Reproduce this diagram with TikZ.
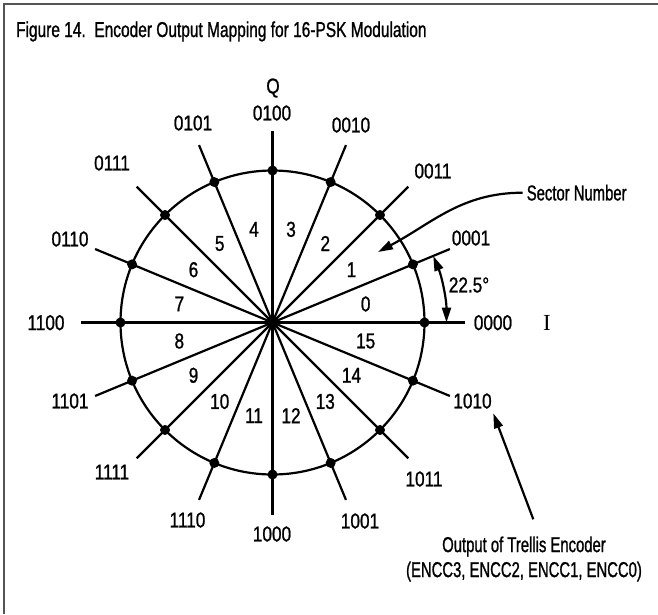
\documentclass[tikz,border=0pt]{standalone}
\usepackage{fontspec}
\setmainfont{Liberation Sans}[FakeStretch=0.8,FakeBold=1]
\newfontfamily\wordfont{Liberation Sans}[FakeStretch=0.69,FakeBold=1]
\newfontfamily\titlefont{Liberation Sans}[FakeStretch=0.72,FakeBold=1]
\newfontfamily\serifI{Liberation Serif}
\usetikzlibrary{arrows.meta}
\definecolor{framegray}{gray}{0.33}
\begin{document}
\begin{tikzpicture}[x=1pt,y=1pt,line width=2.2pt,
  lab/.style={font=\fontsize{21.5}{25}\selectfont,inner sep=0pt},
  wlab/.style={font=\wordfont\fontsize{21.5}{25}\selectfont,inner sep=0pt},
  dot/.style={circle,fill=black,inner sep=0pt,minimum size=10pt},
  tipend/.style={-{Triangle[length=15pt,width=9pt]}},
  tipboth/.style={{Triangle[length=15pt,width=9pt]}-{Triangle[length=15pt,width=9pt]}},
  frame/.style={draw=framegray,line width=2pt}]
\useasboundingbox (0,0) rectangle (658,-614);
\draw[frame] (4,-614) -- (4,-4) -- (658,-4);
\node[font=\titlefont\fontsize{21.5}{25}\selectfont,inner sep=0pt,anchor=base west] (title) at (15,-37) {Figure 14.\ \ Encoder Output Mapping for 16-PSK Modulation};
\coordinate (c) at (272.5,-322.5);
\draw (c) circle[radius=152pt];
\foreach \i in {0,...,15}{
  \coordinate (e\i) at ([shift={(\i*22.5:192pt)}]c);
  \draw (c) -- (e\i);
}
\foreach \i in {0,...,15}{
  \node[dot] (d\i) at ([shift={(\i*22.5:152pt)}]c) {};
  \node[lab] (s\i) at ([shift={({(\i+0.5)*22.5}:95pt)}]c) {\i};
}
\foreach \i/\t/\x/\y in {0/0000/493/322.7, 1/0001/471/238, 2/0011/433/171,
  3/0010/351/125, 4/0100/272/113, 5/0101/193/123, 6/0111/112/163,
  7/0110/70/239, 8/1100/46/322.7, 9/1101/70/401, 10/1111/112/472,
  11/1110/187.5/520, 12/1000/272/534, 13/1001/360/521, 14/1011/424/479,
  15/1010/472.5/401}{
  \node[lab] (l\i) at (\x,-\y) {\t};
}
\node[lab] (q) at (273,-88) {Q};
\node[font=\serifI\fontsize{23}{25}\selectfont,inner sep=0pt] (iaxis) at (547,-322.5) {I};
% angle arc
\coordinate (a0) at ([shift={(0:174pt)}]c);
\draw[tipboth] (a0) arc[start angle=0,end angle=22.5,radius=174pt];
\node[lab] (ang) at (469,-285) {22.5°};
% sector number
\node[wlab,anchor=west,inner xsep=3pt] (sn) at (522.7,-192.7) {Sector Number};
\coordinate (sntip) at (378,-252);
\draw[tipend] (sn.west) to[out=180,in=28] (sntip);
% output of trellis encoder
\node[wlab,align=center] (out) at (524,-559) {Output of Trellis Encoder\\(ENCC3, ENCC2, ENCC1, ENCC0)};
\coordinate (otail) at (533.3,-519.3);
\coordinate (otip) at (493.3,-413.3);
\draw[tipend] (otail) -- (otip);
\end{tikzpicture}
\end{document}
